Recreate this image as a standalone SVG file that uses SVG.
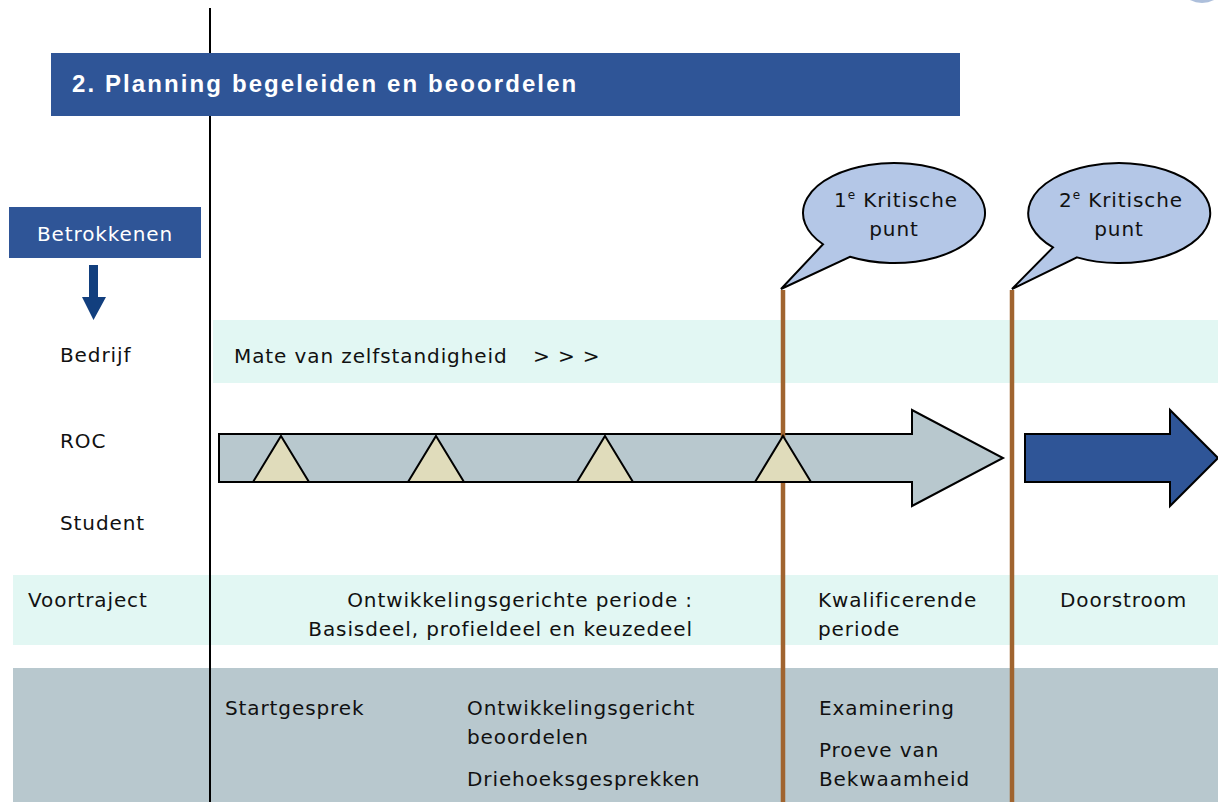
<svg xmlns="http://www.w3.org/2000/svg" width="1218" height="802" viewBox="0 0 1218 802">
<style>
.t{font-family:"DejaVu Sans","Liberation Sans",sans-serif;font-size:20px;letter-spacing:0.9px;fill:#111}
.w{fill:#fff}
.band{fill:#E2F7F3}
.grey{fill:#B8C8CE}
.brown{stroke:#A0642F;stroke-width:4.5;fill:none}
.call{fill:#B4C7E7;stroke:#000;stroke-width:2}
.tri{fill:#E0DCBB;stroke:#000;stroke-width:2;stroke-linejoin:miter}
</style>
<rect width="1218" height="802" fill="#fff"/>
<ellipse cx="1202" cy="-6" rx="16" ry="9" fill="#5B7FB8" opacity="0.5"/>

<g id="bands">
<rect class="band" x="213" y="320" width="1005" height="63"/>
<rect class="band" x="13" y="575" width="1205" height="70"/>
<rect class="grey" x="13" y="668" width="1205" height="134"/>
</g>

<line x1="210" y1="8" x2="210" y2="802" stroke="#000" stroke-width="2"/>

<g id="header">
<rect x="51" y="53" width="909" height="63" fill="#2F5597"/>
<text x="72" y="92" style="font-family:'Liberation Sans',Arial,sans-serif;font-size:24px;font-weight:bold;letter-spacing:2.1px;fill:#fff">2. Planning begeleiden en beoordelen</text>
</g>

<g id="betrokkenen">
<rect x="9" y="207" width="192" height="51" fill="#2F5597"/>
<text class="t w" x="105" y="241" text-anchor="middle">Betrokkenen</text>
<polygon points="89,265 98,265 98,297 106,297 93.5,320 82,297 89,297" fill="#123F7E"/>
</g>

<g id="labels">
<text class="t" x="60" y="362">Bedrijf</text>
<text class="t" x="60" y="448">ROC</text>
<text class="t" x="60" y="530">Student</text>
<text class="t" x="234" y="363">Mate van zelfstandigheid<tspan x="533">&gt; &gt; &gt;</tspan></text>
</g>

<g id="grey-arrow">
<polygon points="219,434 912,434 912,410 1003,458 912,506 912,482 219,482" fill="#B8C8CE" stroke="#000" stroke-width="2"/>
</g>

<g id="connectors">
<line class="brown" x1="783" y1="290" x2="783" y2="802"/>
<line class="brown" x1="1012" y1="290" x2="1012" y2="802"/>
</g>

<g id="milestones">
<polygon class="tri" points="281,436 309,482 253,482"/>
<polygon class="tri" points="436,436 464,482 408,482"/>
<polygon class="tri" points="605,436 633,482 577,482"/>
<polygon class="tri" points="783,436 811,482 755,482"/>
</g>

<g id="blue-arrow">
<polygon points="1025,434 1170,434 1170,410 1218,458 1170,506 1170,482 1025,482" fill="#2F5597" stroke="#000" stroke-width="2"/>
</g>

<g id="callout1">
<path class="call" d="M823,244.3 L781,289 L850,256.8 A91,50 0 1 0 823,244.3 Z"/>
<text class="t" x="896" y="207" text-anchor="middle">1<tspan dy="-8" style="font-size:12px">e</tspan><tspan dy="8"> Kritische</tspan></text>
<text class="t" x="894" y="236" text-anchor="middle">punt</text>
</g>

<g id="callout2">
<path class="call" d="M1053,247.4 L1012,289 L1077,257.4 A91,50 0 1 0 1053,247.4 Z"/>
<text class="t" x="1121" y="207" text-anchor="middle">2<tspan dy="-8" style="font-size:12px">e</tspan><tspan dy="8"> Kritische</tspan></text>
<text class="t" x="1119" y="236" text-anchor="middle">punt</text>
</g>

<g id="phases">
<text class="t" x="28" y="607">Voortraject</text>
<text class="t" x="693" y="607" text-anchor="end">Ontwikkelingsgerichte periode :</text>
<text class="t" x="693" y="636" text-anchor="end">Basisdeel, profieldeel en keuzedeel</text>
<text class="t" x="818" y="607">Kwalificerende</text>
<text class="t" x="818" y="636">periode</text>
<text class="t" x="1060" y="607">Doorstroom</text>
</g>

<g id="assessment">
<text class="t" x="225" y="715">Startgesprek</text>
<text class="t" x="467" y="715">Ontwikkelingsgericht</text>
<text class="t" x="467" y="744">beoordelen</text>
<text class="t" x="467" y="786">Driehoeksgesprekken</text>
<text class="t" x="819" y="715">Examinering</text>
<text class="t" x="819" y="757">Proeve van</text>
<text class="t" x="819" y="786">Bekwaamheid</text>
</g>
</svg>
